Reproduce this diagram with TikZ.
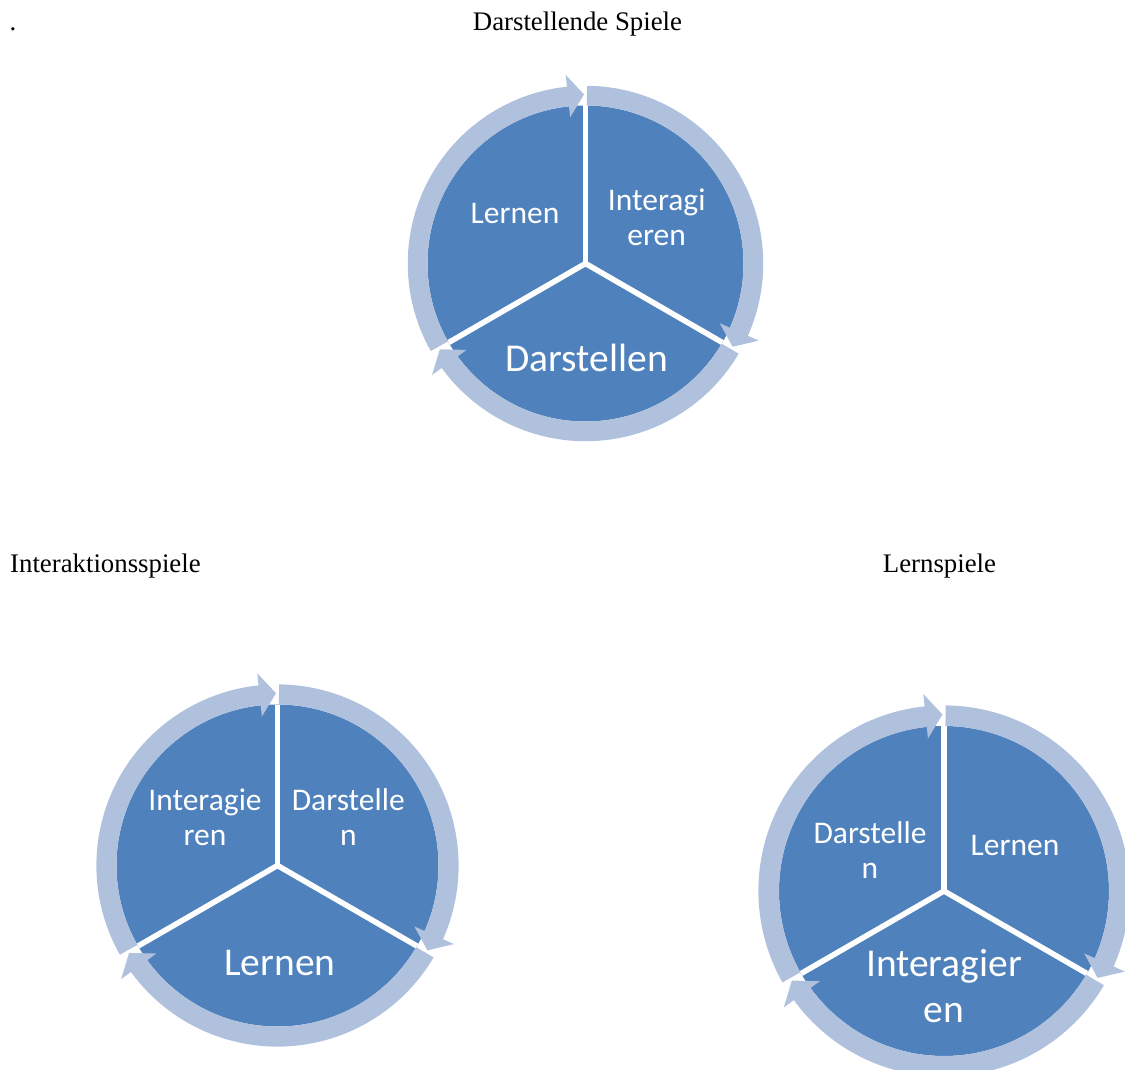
\documentclass[tikz,border=0pt]{standalone}
\usepackage{fontspec}
\setmainfont{Liberation Serif}
\newfontfamily\labelfont{Carlito}
\definecolor{pieblue}{HTML}{4F81BD}
\definecolor{ringblue}{HTML}{B0C1DD}

% one curved arrow of the ring: starts at angle #2 and runs clockwise
% for almost 120 degrees, #1 is the radius of the pie
\newcommand{\segarrow}[2]{%
  \fill[ringblue] ({#2-0.5}:{#1})
    arc[start angle={#2-0.5}, end angle={#2-114}, radius={#1}]
    -- ({#2-114}:{0.93*#1}) -- ({#2-119.5}:{1.07*#1}) -- ({#2-114}:{1.2*#1})
    -- ({#2-114}:{1.125*#1})
    arc[start angle={#2-114}, end angle={#2-0.5}, radius={1.125*#1}] -- cycle;
}
% pie of three sectors with its ring of arrows
\newcommand{\segcycle}[2]{%
  \begin{scope}[shift={#1}]
    \fill[pieblue] (0,0) circle[radius=#2];
    \foreach \a in {90,210,330} \draw[white, line width=5.5pt] (0,0) -- (\a:#2);
    \foreach \a in {90,210,330} {\segarrow{#2}{\a}}
  \end{scope}
}

\tikzset{
  title/.style={font=\fontsize{26.8}{30}\selectfont, inner sep=0pt},
  seglabel/.style={text=white, align=center, inner sep=0pt,
    font=\labelfont\fontsize{31.5}{35}\selectfont},
  seglabelbig/.style={text=white, align=center, inner sep=0pt,
    font=\labelfont\fontsize{39.5}{46}\selectfont},
}

\begin{document}
\begin{tikzpicture}[x=1pt, y=1pt]
  \useasboundingbox (0,0) rectangle (1125,-1070);
  \clip (0,0) rectangle (1125,-1070);

  % headings
  \node[title, anchor=base] (dot) at (13,-31) {.};
  \node[title, anchor=base] (t1) at (577.5,-31) {Darstellende Spiele};
  \node[title, anchor=base west] (t2) at (10,-572) {Interaktionsspiele};
  \node[title, anchor=base] (t3) at (939.5,-572) {Lernspiele};

  % Darstellende Spiele
  \segcycle{(585.5,-263.5)}{158}
  \node[seglabel] (a1) at (515,-214) {Lernen};
  \node[seglabel] (a2) at (656.7,-217.5) {Interagi\\eren};
  \node[seglabelbig] (a3) at (586.7,-358) {Darstellen};

  % Interaktionsspiele
  \segcycle{(277.5,-865.5)}{161}
  \node[seglabel] (b1) at (205,-817.5) {Interagie\\ren};
  \node[seglabel] (b2) at (348.3,-817.5) {Darstelle\\n};
  \node[seglabelbig] (b3) at (280,-963) {Lernen};

  % Lernspiele
  \segcycle{(944,-891)}{165}
  \node[seglabel] (c1) at (870,-850.5) {Darstelle\\n};
  \node[seglabel] (c2) at (1015,-845) {Lernen};
  \node[seglabelbig] (c3) at (944,-986.5) {Interagier\\en};
\end{tikzpicture}
\end{document}
